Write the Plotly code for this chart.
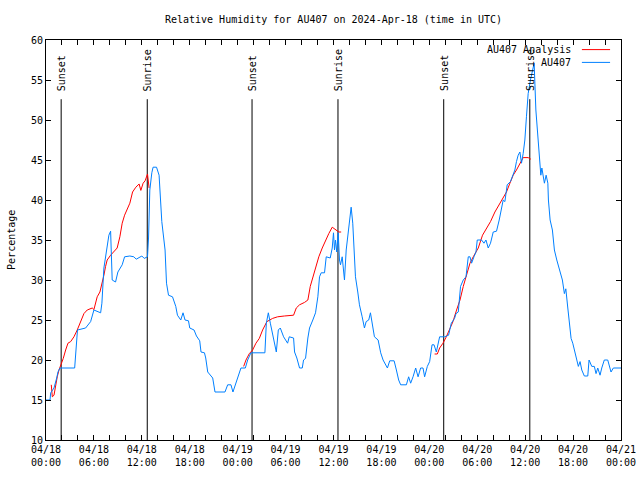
import pandas as pd
import plotly.graph_objects as go

START = pd.Timestamp("2024-04-18 00:00")

# AU407 observations: hours since 2024-04-18 00:00 UTC, relative humidity (%)
obs_hours = [0.0, 0.5, 0.59, 1.0, 1.34, 1.5, 1.75, 3.59, 3.94, 4.96, 5.59, 6.0, 6.84, 7.0, 7.25, 7.46,
             7.875, 8.09, 8.29, 8.71, 9.0, 9.54, 9.84, 10.5, 11.0, 11.3, 12.0, 12.3, 12.71, 12.84, 13.0,
             13.25, 13.41, 13.84, 14.16, 14.5, 14.66, 14.91, 15.09, 15.34, 15.84, 16.25, 16.46, 16.875,
             17.16, 17.41, 17.84, 18.0, 18.54, 18.84, 19.25, 19.41, 19.84, 20.0, 20.25, 20.75, 20.875,
             21.16, 22.41, 22.75, 23.16, 23.41, 23.79, 24.21, 24.41, 24.96, 25.25, 25.66, 27.41, 27.59,
             27.84, 28.09, 28.5, 28.84, 29.09, 29.34, 29.75, 30.04, 30.25, 30.46, 31.0, 31.125, 31.41,
             31.75, 32.09, 32.25, 32.5, 32.79, 33.0, 33.41, 33.75, 34.04, 34.25, 34.46, 34.875, 35.09,
             35.59, 35.84, 36.0, 36.125, 36.25, 36.41, 36.59, 36.75, 36.875, 37.09, 37.375, 37.59, 37.79,
             38.0, 38.21, 38.41, 38.54, 38.75, 39.04, 39.25, 39.59, 39.875, 40.09, 40.41, 40.625, 40.84,
             41.125, 41.59, 41.91, 42.21, 42.75, 43.04, 43.59, 43.875, 44.16, 44.41, 45.125, 45.41, 45.66,
             45.96, 46.29, 46.59, 46.91, 47.21, 47.41, 47.75, 48.04, 48.34, 48.59, 48.875, 49.29, 49.91,
             50.41, 50.75, 51.16, 51.34, 51.625, 51.91, 52.25, 52.59, 52.875, 53.09, 53.29, 53.59, 53.84,
             54.0, 54.54, 54.84, 55.09, 55.375, 55.66, 56.0, 56.41, 56.75, 57.04, 57.25, 57.46, 57.75,
             58.16, 58.5, 58.71, 58.91, 59.125, 59.34, 59.54, 59.75, 59.96, 60.16, 60.375, 60.66, 61.0,
             61.125, 61.34, 61.59, 61.75, 61.96, 62.09, 62.41, 62.625, 62.84, 62.91, 63.125, 63.41, 63.66,
             63.96, 64.16, 64.375, 64.66, 64.91, 65.09, 65.34, 65.54, 65.75, 65.96, 66.25, 66.46, 66.66,
             66.875, 67.09, 67.41, 67.84, 68.0, 68.34, 68.66, 68.875, 69.09, 69.375, 69.59, 69.91, 70.34,
             70.54, 70.75, 71.04, 71.66, 72.0]
obs_rh = [15.0, 15.0, 15.9, 16.5, 17.75, 18.5, 19.0, 19.0, 23.75, 24.0, 24.8, 26.25, 25.9, 27.1, 31.5, 33.1,
          35.6, 36.1, 30.0, 29.75, 31.0, 31.9, 32.9, 33.0, 32.9, 32.6, 33.0, 32.7, 32.9, 35.25, 41.25,
          43.4, 44.1, 44.1, 43.1, 37.3, 35.9, 33.75, 29.6, 28.1, 27.9, 26.7, 25.6, 25.0,
          25.9, 25.0, 24.9, 24.0, 23.75, 23.0, 22.4, 21.0, 20.9, 20.25, 18.5, 18.0, 17.75,
          16.0, 16.0, 16.9, 16.9, 16.0, 17.1, 18.4, 19.0, 19.0, 20.0, 20.9, 20.9, 24.6,
          25.9, 24.6, 22.5, 21.0, 23.75, 24.0, 22.9, 22.5, 22.1, 22.9, 22.75, 21.0, 20.25,
          19.0, 19.0, 20.0, 20.2, 22.75, 24.0, 25.0, 25.9, 27.9, 30.4, 30.9, 30.9, 32.9,
          32.75, 34.0, 35.9, 33.75, 35.0, 33.5, 35.9, 32.5, 31.9, 32.9, 30.0, 33.75, 35.4,
          37.1, 39.1, 37.1, 33.75, 30.4, 28.5, 26.9, 25.4, 24.0, 24.8, 25.0, 25.9, 24.6,
          22.9, 22.5, 20.9, 20.0, 19.0, 19.9, 19.9, 18.75, 17.5, 16.9, 16.9, 17.9, 17.1,
          17.9, 19.0, 17.9, 19.0, 19.0, 17.9, 19.2, 19.8, 21.9, 21.9, 21.0, 22.9, 22.9,
          23.1, 24.6, 25.2, 25.8, 26.0, 29.2, 30.0, 30.4, 32.9, 32.9, 32.1, 32.9, 33.5,
          35.0, 35.0, 34.6, 35.0, 34.0, 34.6, 36.0, 36.1, 37.5, 38.75, 40.0, 39.8, 41.9,
          42.3, 43.3, 43.75, 44.8, 45.6, 46.0, 44.6, 45.8, 47.5, 50.4, 53.3, 55.0, 56.9,
          57.1, 51.25, 47.9, 46.0, 43.1, 44.0, 42.1, 43.1, 42.1, 40.0, 37.5, 36.25, 33.75,
          32.5, 31.7, 31.0, 30.0, 28.3, 28.9, 26.5, 24.2, 22.7, 22.1, 20.8, 20.0, 19.2,
          19.8, 18.75, 18.0, 18.0, 20.0, 19.2, 19.2, 18.3, 19.0, 18.1, 19.0, 20.0, 20.0,
          19.4, 18.5, 19.0, 19.0, 19.0]

# AU407 Analysis (three separate runs, None marks the gaps)
ana_hours = [0.66, 0.79, 1.0, 1.21, 1.41, 1.625, 1.91, 2.16, 2.46, 2.75, 3.09, 3.5, 3.91, 4.34, 4.75,
             5.16, 5.79, 6.0, 6.41, 6.75, 7.04, 7.25, 7.46, 7.66, 8.09, 8.5, 8.91, 9.25, 9.54, 9.84,
             10.16, 10.5, 10.84, 11.25, 11.66, 11.875, 12.16, 12.41, 12.71, 12.91,
             None,
             24.75, 25.04, 25.46, 25.875, 26.29, 26.71, 27.125, 27.41, 27.66, 28.375, 29.0, 29.84,
             31.0, 31.34, 31.75, 32.375, 32.79, 33.09, 33.41, 33.75, 34.16, 34.59, 35.0, 35.41,
             35.84, 36.25, 36.66, 36.96,
             None,
             48.66, 49.0, 49.29, 49.71, 50.125, 50.54, 50.96, 51.41, 51.84, 52.25, 52.66, 53.09,
             53.5, 54.125, 54.66, 55.16, 55.66, 56.21, 56.75, 57.25, 57.66, 58.09, 58.5, 58.91,
             59.34, 59.75, 60.375, 60.71]
ana_rh = [16.9, 15.4, 15.6, 17.1, 17.9, 18.75, 19.4, 20.2, 21.25, 22.1, 22.3, 22.9, 23.75, 24.8, 25.8,
          26.25, 26.5, 26.3, 27.9, 28.5, 29.6, 30.6, 31.7, 32.5, 33.1, 33.5, 34.0, 35.4, 37.1, 38.1,
          38.75, 39.6, 41.0, 41.6, 42.0, 41.2, 42.1, 42.4, 43.25, 41.5,
          None,
          19.2, 20.0, 20.8, 21.25, 22.1, 22.7, 23.75, 24.4, 24.8, 25.2, 25.4, 25.5,
          25.6, 26.5, 26.9, 27.2, 27.5, 29.2, 30.4, 31.7, 32.9, 34.0, 35.0, 35.8,
          36.6, 36.25, 36.0, 36.0,
          None,
          20.75, 20.75, 21.5, 22.1, 22.9, 23.75, 24.8, 26.25, 27.5, 29.2, 30.6, 32.1,
          32.9, 34.0, 35.6, 36.5, 37.3, 38.5, 39.4, 40.2, 41.0, 42.1, 43.1, 43.75,
          44.6, 45.3, 45.3, 45.1]

sunset_hours = [1.9, 25.8, 49.8]
sunrise_hours = [12.68, 36.56, 60.58]
marker_top = 52.6

y_range = [10, 60]
x_span_hours = 72
tick_hours = 6
minor_hours = 2


def to_time(hours):
    return [None if h is None else START + pd.Timedelta(hours=h) for h in hours]


FONT = "DejaVu Sans Mono"
fig = go.Figure()

# sunrise / sunset marker lines
for name, hrs in (("Sunset", sunset_hours), ("Sunrise", sunrise_hours)):
    for h in hrs:
        t = START + pd.Timedelta(hours=h)
        fig.add_trace(go.Scatter(x=[t, t], y=[y_range[0], marker_top], mode="lines",
                                 line=dict(color="black", width=1), showlegend=False,
                                 hoverinfo="skip"))
        fig.add_annotation(x=t, y=marker_top, text=name, textangle=-90, showarrow=False,
                           xanchor="center", yanchor="bottom", yshift=6,
                           font=dict(family=FONT, size=10, color="black"))

fig.add_trace(go.Scatter(x=to_time(ana_hours), y=ana_rh, mode="lines", name="AU407 Analysis",
                         line=dict(color="#ff0000", width=1), showlegend=False))
fig.add_trace(go.Scatter(x=to_time(obs_hours), y=obs_rh, mode="lines", name="AU407",
                         line=dict(color="#0080ff", width=1), showlegend=False))

# gnuplot-style legend at the top right (text left of line sample)
legend_rows = [("AU407 Analysis", "#ff0000", 0.976), ("AU407", "#0080ff", 0.944)]
for label, color, yy in legend_rows:
    fig.add_annotation(x=0.917, y=yy, xref="paper", yref="paper", text=label, showarrow=False,
                       xanchor="right", yanchor="middle",
                       font=dict(family=FONT, size=10, color="black"))
    fig.add_shape(type="line", xref="paper", yref="paper", x0=0.932, x1=0.981, y0=yy, y1=yy,
                  line=dict(color=color, width=1))

# y-axis title placed like gnuplot's ylabel
fig.add_annotation(x=-0.061, y=0.5, xref="paper", yref="paper", text="Percentage",
                   textangle=-90, showarrow=False, xanchor="center", yanchor="middle",
                   font=dict(family=FONT, size=10, color="black"))

fig.update_layout(
    width=640, height=480,
    margin=dict(l=46, r=19, t=40, b=40, autoexpand=False),
    paper_bgcolor="white", plot_bgcolor="white",
    title=dict(text="Relative Humidity for AU407 on 2024-Apr-18 (time in UTC)",
               x=(46 + 621) / 2 / 640, xanchor="center", y=1 - 19 / 480, yanchor="middle",
               font=dict(family=FONT, size=10, color="black")),
    font=dict(family=FONT, size=10, color="black"),
)
fig.update_xaxes(
    type="date", automargin=False,
    range=[START, START + pd.Timedelta(hours=x_span_hours)],
    tick0=START, dtick=tick_hours * 3600 * 1000, tickformat="%m/%d<br>%H:%M",
    ticks="inside", ticklen=5, tickcolor="black",
    minor=dict(dtick=minor_hours * 3600 * 1000, ticks="inside", ticklen=5, tickcolor="black",
               showgrid=False),
    showgrid=False, zeroline=False,
    showline=True, linecolor="black", linewidth=1, mirror="allticks",
    tickfont=dict(family=FONT, size=10, color="black"),
)
fig.update_yaxes(
    range=y_range, dtick=5, ticks="inside", ticklen=5, tickcolor="black", automargin=False,
    showgrid=False, zeroline=False,
    showline=True, linecolor="black", linewidth=1, mirror="allticks",
    tickfont=dict(family=FONT, size=10, color="black"),
)

fig.write_html("out.html", config={"displayModeBar": False},
               post_script="document.body.style.margin='0px';document.body.style.overflow='hidden';")
